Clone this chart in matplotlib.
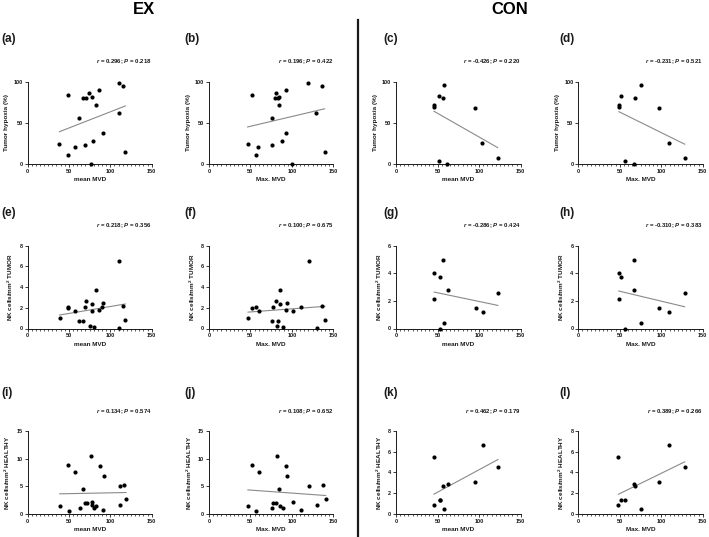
import numpy as np
import matplotlib
matplotlib.use("Agg")
import matplotlib.pyplot as plt
from matplotlib.ticker import MultipleLocator

plt.rcParams['font.family'] = ['Liberation Sans', 'DejaVu Sans']
plt.rcParams['mathtext.fontset'] = 'custom'
plt.rcParams['mathtext.it'] = 'Liberation Sans:italic:bold'
plt.rcParams['mathtext.rm'] = 'Liberation Sans:bold'
plt.rcParams['mathtext.bf'] = 'Liberation Sans:bold'

# ---------------- data ----------------
a_x = [38.6, 49, 49, 57.5, 62.7, 67.5, 70.8, 70, 74.8, 77.2, 78.4, 79.6, 82.8, 86.9, 91.3, 110.6, 111, 115, 118.2]
a_y = [24.3, 10.5, 83.8, 20.6, 56.3, 80.6, 80.6, 22.7, 86.2, 0, 81.4, 27.9, 71.3, 89.9, 37.2, 62.3, 98.4, 94.7, 15]
b_x = [46.6, 51.5, 56.7, 59.5, 75.6, 76.4, 80, 81.2, 82.8, 84.4, 84.4, 88.5, 92.5, 93.3, 100.5, 119.4, 129.5, 136.3, 139.5]
b_y = [24.3, 83.8, 10.5, 20.6, 56.3, 22.7, 80.6, 86.2, 80.6, 81.4, 71.3, 27.9, 89.9, 37.2, 0, 98.4, 62.3, 94.7, 15]
c_x = [45.7, 45.7, 52.1, 52.1, 56.6, 58.2, 61.4, 94.7, 103.9, 122.3]
c_y = [71.3, 69.6, 82.2, 3.6, 80.6, 96.4, 0, 68.4, 25.1, 7.7]
d_x = [49, 49, 51.5, 56.3, 68.7, 75.6, 67.1, 97.3, 109.4, 128.3]
d_y = [71.3, 69.6, 82.2, 3.6, 80.6, 96.4, 0, 68.4, 25.1, 7.7]
e_x = [38.7, 48.4, 49.2, 57.3, 62.5, 67.3, 69.4, 71, 75.4, 77.4, 78.2, 79.8, 82.7, 86.7, 89.9, 91.5, 110.5, 110.5, 115.3, 118.1]
e_y = [1.06, 1.97, 2.03, 1.65, 0.77, 0.77, 2.06, 2.61, 0.26, 1.71, 2.35, 0.13, 3.68, 1.77, 2.1, 2.42, 6.48, 0.03, 2.16, 0.84]
f_x = [47.2, 52, 57.3, 60.1, 76.2, 77, 81, 81.9, 83.5, 85.1, 85.1, 89.1, 93.1, 94, 100.8, 110.9, 120.2, 129.8, 136.7, 139.9]
f_y = [1.06, 1.94, 2.03, 1.65, 0.77, 2.06, 2.61, 0.26, 0.77, 3.68, 2.39, 0.16, 1.74, 2.42, 1.71, 2.06, 6.48, 0.03, 2.16, 0.84]
g_x = [46, 46, 52.4, 53.2, 56.5, 58, 62.9, 96, 104.8, 122.6]
g_y = [4.04, 2.15, 3.73, 0, 4.99, 0.41, 2.76, 1.5, 1.23, 2.57]
h_x = [48.8, 48.8, 51.6, 56.5, 67.3, 67.3, 75.8, 97.6, 109.7, 128.2]
h_y = [4.04, 2.15, 3.73, 0, 4.99, 2.76, 0.41, 1.5, 1.23, 2.57]
i_x = [38.9, 49.4, 49.8, 57.9, 63.2, 67.2, 70, 71.7, 76.1, 77.7, 78.5, 80.2, 82.6, 87.4, 91.1, 91.9, 111.3, 111.7, 116.2, 119]
i_y = [1.39, 8.79, 0.42, 7.64, 1.03, 4.42, 2.0, 2.0, 10.42, 2.12, 1.52, 1.03, 1.39, 8.67, 0.6, 6.85, 1.64, 5.03, 5.27, 2.73]
j_x = [46.9, 51.4, 57.1, 60, 75.9, 77.1, 81.2, 82, 84.1, 85.3, 89.4, 93.5, 94.3, 101.2, 111.4, 120.8, 130.6, 137.6, 140.8]
j_y = [1.39, 8.79, 0.42, 7.64, 1.03, 2.0, 2.0, 10.42, 4.42, 1.45, 1.03, 8.6, 6.85, 2.12, 0.6, 5.03, 1.64, 5.27, 2.73]
k_x = [45.6, 45.6, 52.4, 52.4, 56.5, 58, 62.1, 95.2, 104.4, 122.6]
k_y = [0.9, 5.48, 1.35, 1.35, 2.68, 0.48, 2.87, 3.06, 6.68, 4.58]
l_x = [48.4, 48.4, 51.2, 56.5, 67.3, 68.1, 75.8, 97.6, 109.7, 128.2]
l_y = [0.9, 5.48, 1.35, 1.35, 2.87, 2.68, 0.48, 3.06, 6.68, 4.58]

panel_letters = ['a', 'b', 'c', 'd', 'e', 'f', 'g', 'h', 'i', 'j', 'k', 'l']
r_values = ['0.296', '0.196', '-0.426', '-0.231', '0.218', '0.100', '-0.286', '-0.310', '0.134', '0.108', '0.462', '0.389']
p_values = ['0.218', '0.422', '0.220', '0.521', '0.356', '0.675', '0.424', '0.383', '0.574', '0.652', '0.179', '0.266']
x_labels = ['mean MVD', 'Max. MVD']
row_ylabels = ['Tumor hypoxia (%)', 'NK cells/mm$^2$ TUMOR', 'NK cells/mm$^2$ HEALTHY']
ymax_by_panel = [100, 100, 100, 100, 8, 8, 6, 6, 15, 15, 8, 8]
ystep_by_panel = [50, 50, 50, 50, 2, 2, 2, 2, 5, 5, 2, 2]
group_titles = ['EX', 'CON']

xs = [a_x, b_x, c_x, d_x, e_x, f_x, g_x, h_x, i_x, j_x, k_x, l_x]
ys = [a_y, b_y, c_y, d_y, e_y, f_y, g_y, h_y, i_y, j_y, k_y, l_y]

# ---------------- layout ----------------
W, H = 709, 537
fig = plt.figure(figsize=(W / 100, H / 100), dpi=100)
fig.patch.set_facecolor('white')

col_px = [(27.5, 151.7), (209, 333.3), (396, 520.7), (578.3, 702.7)]
row_px = [(81.7, 164), (245.7, 328.5), (431.2, 513.8)]
label_x_px = [1, 184, 383, 559]
label_y_px = [39, 213, 393]

def fx(px):
    return px / W

def fy(py):
    return 1 - py / H

spine_col = '#1a1a1a'
for idx in range(12):
    r, c = divmod(idx, 4)
    l, rr = col_px[c]
    t, b = row_px[r]
    ax = fig.add_axes([fx(l), fy(b), (rr - l) / W, (b - t) / H])
    x = np.array(xs[idx]); y = np.array(ys[idx])
    ax.scatter(x, y, s=9, color='black', zorder=3, clip_on=False, linewidths=0)
    k1, k0 = np.polyfit(x, y, 1)
    xl = np.array([x.min(), x.max()])
    ax.plot(xl, k0 + k1 * xl, color='#8a8a8a', lw=0.8, zorder=2)
    ax.set_xlim(0, 150)
    ax.set_ylim(0, ymax_by_panel[idx])
    ax.xaxis.set_major_locator(MultipleLocator(50))
    ax.xaxis.set_minor_locator(MultipleLocator(5))
    ax.yaxis.set_major_locator(MultipleLocator(ystep_by_panel[idx]))
    for s in ['top', 'right']:
        ax.spines[s].set_visible(False)
    for s in ['left', 'bottom']:
        ax.spines[s].set_color(spine_col)
        ax.spines[s].set_linewidth(0.7)
    ax.tick_params(axis='both', which='major', length=2.2, width=0.6, color=spine_col,
                   labelsize=4, pad=1.2, labelcolor='#1a1a1a')
    ax.tick_params(axis='x', which='minor', length=1.3, width=0.5, color=spine_col)
    for lab in ax.get_xticklabels() + ax.get_yticklabels():
        lab.set_fontweight('bold')
    ax.set_xlabel(x_labels[c % 2], fontsize=4.6, fontweight='bold', labelpad=2.5, color='#1a1a1a')
    ax.set_ylabel(row_ylabels[r], fontsize=4.6, fontweight='bold', labelpad=3, color='#1a1a1a')
    ax.set_facecolor('none')
    hpx = b - t
    ax.text(1.0, 1 + 20 / hpx, r'$\mathit{r}$ = ' + r_values[idx] + r'; $\mathit{P}$ = ' + p_values[idx],
            transform=ax.transAxes, ha='right', va='center', fontsize=4.3,
            fontweight='bold', color='#1a1a1a')
    fig.text(fx(label_x_px[c]), fy(label_y_px[r]), '(' + panel_letters[idx] + ')',
             ha='left', va='center', fontsize=8.5, fontweight='bold', color='#1a1a1a')

fig.text(fx(144), fy(10), group_titles[0], ha='center', va='center', fontsize=12, fontweight='bold')
fig.text(fx(510), fy(10), group_titles[1], ha='center', va='center', fontsize=12, fontweight='bold')
fig.add_artist(plt.Line2D([fx(358), fx(358)], [fy(20), fy(537)], transform=fig.transFigure,
                          color='#1a1a1a', lw=1.6))

fig.savefig('out.png', dpi=100, facecolor='white')
